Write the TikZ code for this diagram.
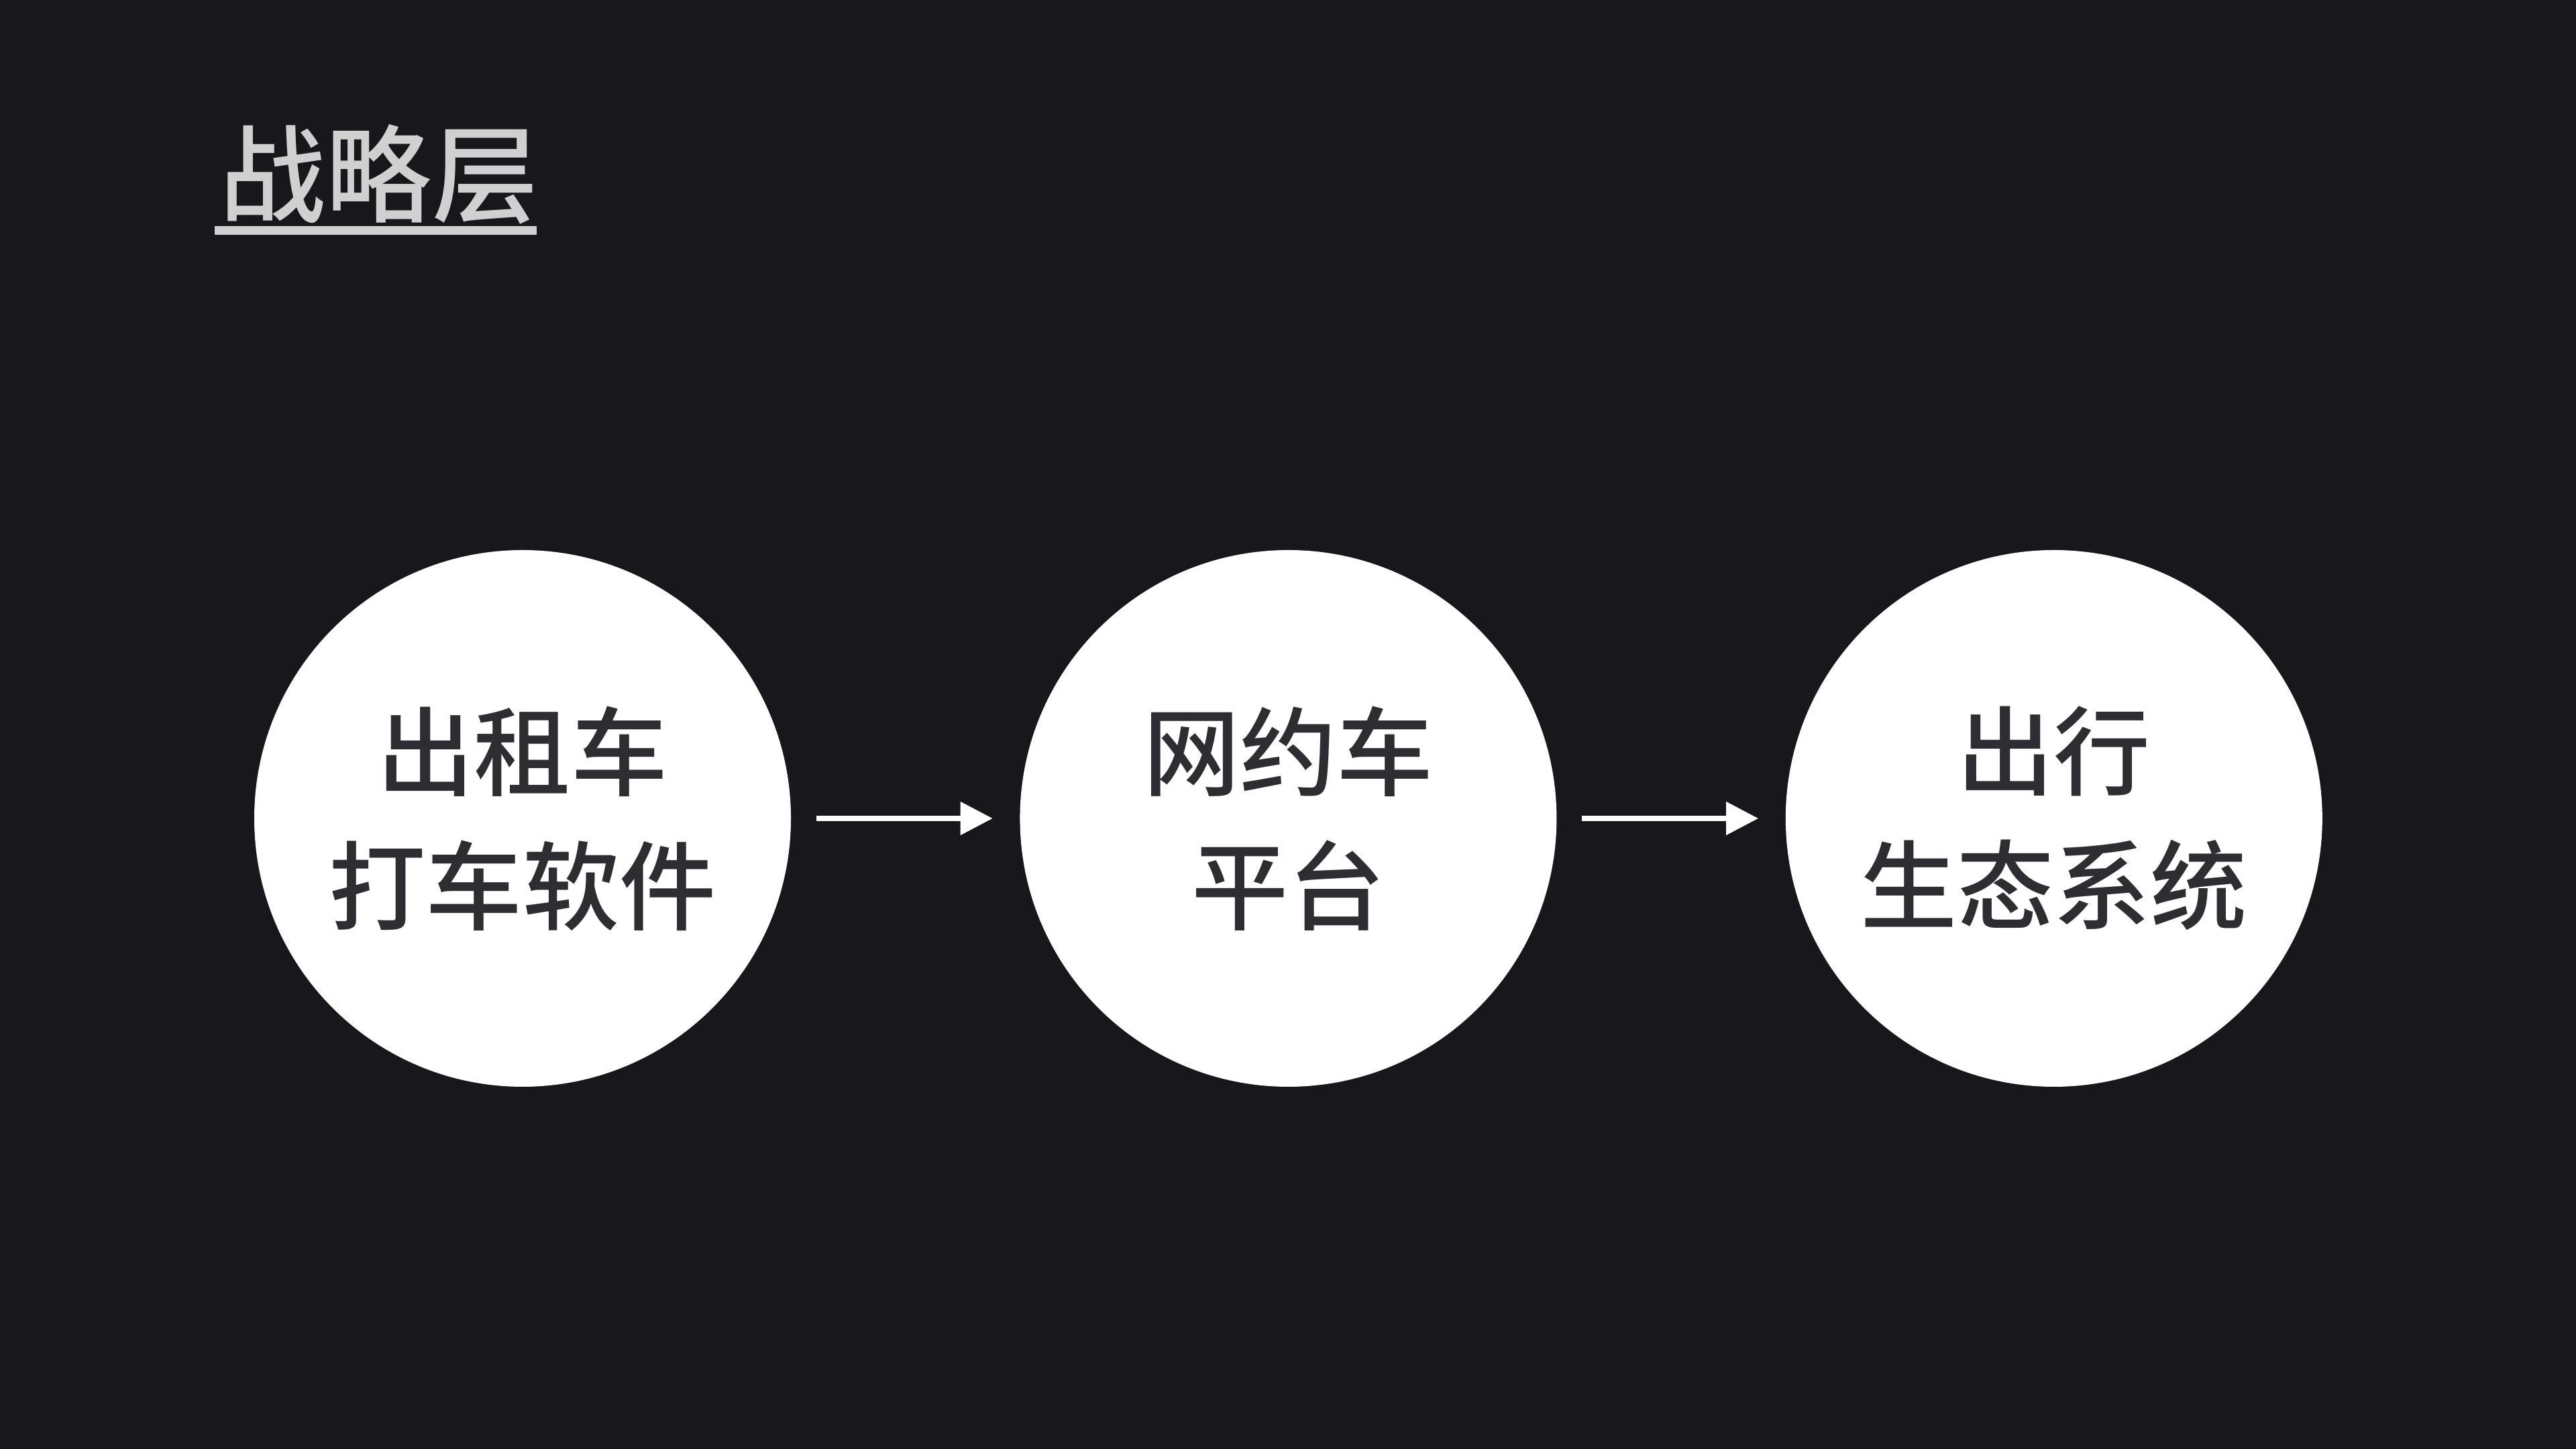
\documentclass[tikz,border=0pt]{standalone}
\usepackage{fontspec}
\newfontfamily\cjk{Noto Sans CJK SC Medium}
\usepackage{tikz}
\usetikzlibrary{arrows.meta,positioning}
\usepackage{xcolor}
\definecolor{slbg}{HTML}{18171C}
\definecolor{sltext}{HTML}{2E2D32}
\definecolor{sltitle}{HTML}{D0D0D0}

\begin{document}
\begin{tikzpicture}[
  node distance=3.4cm,
  stage/.style={
    circle, fill=white, minimum size=8cm, inner sep=0pt,
    align=center, text=sltext, font=\cjk\fontsize{41}{57}\selectfont
  },
  heading/.style={
    text=sltitle, inner sep=0pt, font=\cjk\fontsize{45}{52}\selectfont
  },
  arr/.style={-{Triangle[length=0.48cm, width=0.48cm]}, line width=0.08cm,
    color=white, shorten <=0.37cm, shorten >=0.4cm},
]
  % Background
  \fill[slbg] (0,0) rectangle (38.4,21.6);
  \useasboundingbox (0,0) rectangle (38.4,21.6);

  % Title
  \node[heading, anchor=west] (title) at (3.27,19.0) {战略层};
  \draw[sltitle, line width=0.13cm] ([xshift=-0.07cm]title.west |- 0,18.165)
    -- ([xshift=-0.03cm]title.east |- 0,18.165);

  % Stages
  \node[stage] (taxi) at (7.79,9.4) {出租车\\打车软件};
  \node[stage, right=of taxi] (ridehail) {网约车\\平台};
  \node[stage, right=of ridehail] (eco) {出行\\生态系统};

  % Arrows
  \draw[arr] (taxi) -- (ridehail);
  \draw[arr] (ridehail) -- (eco);
\end{tikzpicture}
\end{document}
